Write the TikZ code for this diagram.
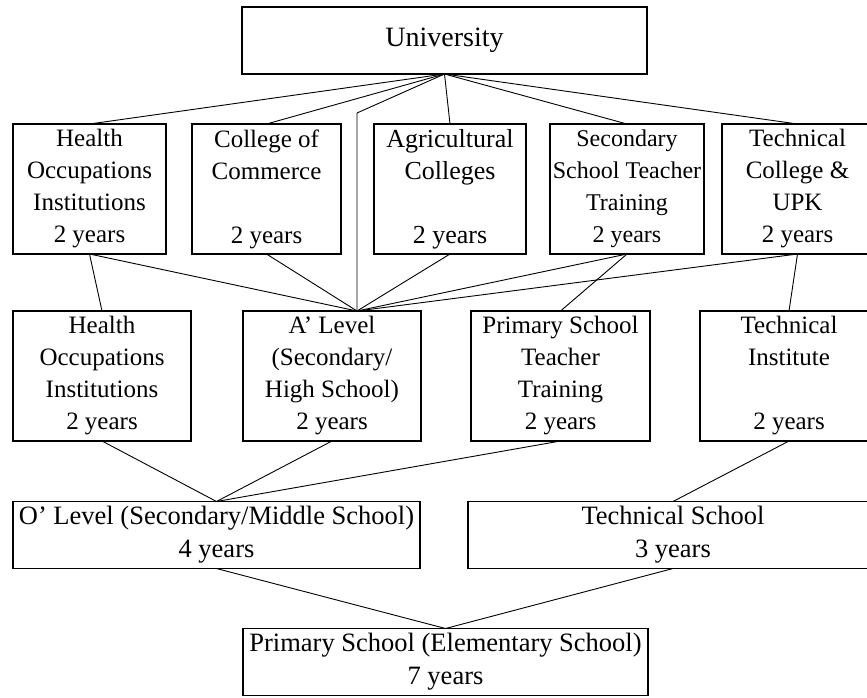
\documentclass[tikz,border=0pt]{standalone}
\usepackage{fontspec}
\setmainfont{Liberation Serif}
\usetikzlibrary{positioning}

\begin{document}
\begin{tikzpicture}[x=1pt, y=-1pt]
    \tikzstyle{block} = [rectangle, draw, line width=1.8pt, inner sep=0pt, outer sep=0pt, align=center, minimum height=130pt, font=\fontsize{25}{32}\selectfont]
    \tikzstyle{wide} = [rectangle, draw, line width=1.8pt, inner sep=0pt, outer sep=0pt, align=center, minimum height=67pt, font=\fontsize{26.5}{33}\selectfont]
    \tikzstyle{line} = [draw, line width=0.9pt]

    \useasboundingbox (0,0) rectangle (867,697);

    \node [wide, minimum width=405pt, font=\fontsize{28}{33}\selectfont] (univ) at (444.5,40.5) {University};

    % two-year colleges
    \node [block, minimum width=153pt] (health) at (89.5,189) {Health\\Occupations\\Institutions\\2 years};
    \node [block, minimum width=149pt, right=26pt of health] (commerce) {College of\\Commerce\\\mbox{}\\2 years};
    \node [block, minimum width=152pt, right=33pt of commerce, font=\fontsize{26}{32}\selectfont] (agri) {Agricultural\\Colleges\\\mbox{}\\2 years};
    \node [block, minimum width=154pt, right=24pt of agri, font=\fontsize{24}{32}\selectfont] (secteach) {Secondary\\School Teacher\\Training\\2 years};
    \node [block, minimum width=151pt, right=18pt of secteach] (techcol) {Technical\\College \&\\UPK\\2 years};

    % upper secondary level
    \node [block, minimum width=178pt] (healthocc) at (102,376) {Health\\Occupations\\Institutions\\2 years};
    \node [block, minimum width=178pt, right=52pt of healthocc] (alevel) {A’ Level\\(Secondary/\\High School)\\2 years};
    \node [block, minimum width=179pt, right=50pt of alevel] (primteach) {Primary School\\Teacher\\Training\\2 years};
    \node [block, minimum width=178pt, right=50pt of primteach] (techinst) {Technical\\Institute\\\mbox{}\\2 years};

    % lower secondary level
    \node [wide, minimum width=407pt] (olevel) at (216.5,535) {O’ Level (Secondary/Middle School)\\4 years};
    \node [wide, minimum width=410pt, right=48pt of olevel] (techschool) {Technical School\\3 years};

    \node [wide, minimum width=405pt] (primary) at (445.5,662) {Primary School (Elementary School)\\7 years};

    \coordinate (ahub) at ([xshift=25pt]alevel.north);
    \coordinate (abend) at ([yshift=198pt]ahub);

    \path [line] (univ.south) -- (health.north);
    \path [line] (univ.south) -- (commerce.north);
    \path [line] (univ.south) -- (agri.north);
    \path [line] (univ.south) -- (secteach.north);
    \path [line] (univ.south) -- (techcol.north);
    \path [line] (univ.south) -- (abend) -- (ahub);

    \path [line] (health.south) -- (ahub);
    \path [line] (commerce.south) -- (ahub);
    \path [line] (agri.south) -- (ahub);
    \path [line] (secteach.south) -- (ahub);
    \path [line] (techcol.south) -- (ahub);

    \path [line] (health.south) -- (healthocc.north);
    \path [line] (secteach.south) -- (primteach.north);
    \path [line] (techcol.south) -- (techinst.north);

    \path [line] (healthocc.south) -- (olevel.north);
    \path [line] (alevel.south) -- (olevel.north);
    \path [line] (primteach.south) -- (olevel.north);
    \path [line] (techinst.south) -- (techschool.north);

    \path [line] (olevel.south) -- (primary.north);
    \path [line] (techschool.south) -- (primary.north);
\end{tikzpicture}
\end{document}
